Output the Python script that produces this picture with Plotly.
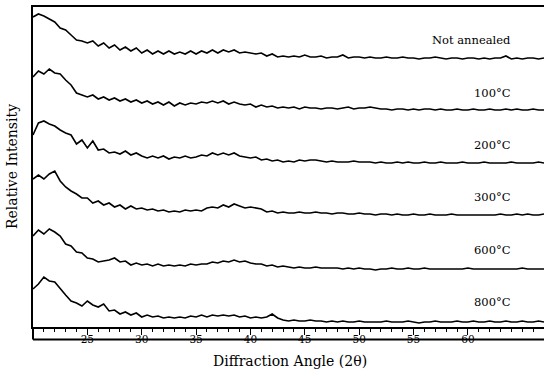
import numpy as np
import plotly.graph_objects as go

# Diffraction angle grid (2-theta, degrees), 0.5 degree steps from 20 to 67
two_theta = np.arange(20.0, 67.01, 0.5)

sample_labels = ["Not annealed", "100°C", "200°C", "300°C", "600°C", "800°C"]

# Relative intensity above each trace's own baseline
not_annealed = [
    42, 45, 43, 40, 37, 31, 29, 24, 19, 18,
    16, 18, 13, 16, 11, 14, 9, 12, 8, 11,
    6, 9, 5, 8, 5, 8, 5, 7, 5, 8,
    5, 8, 6, 9, 6, 9, 7, 9, 6, 7,
    6, 5, 6, 3, 5, 2, 3, 2, 3, 2,
    4, 2, 2, 3, 1, 2, 2, 4, 1, 2,
    2, 1, 2, 1, 1, 2, 1, 1, 2, 1,
    1, 0, 1, 1, 2, 1, 0, 1, 1, 0,
    1, 1, 0, 1, 0, 1, 1, 3, 0, 1,
    0, 1, 1, 0, 1,
]
t100 = [
    33, 39, 36, 41, 37, 36, 30, 25, 17, 15,
    13, 15, 11, 13, 10, 12, 9, 11, 8, 10,
    7, 9, 6, 8, 5, 8, 4, 7, 5, 7,
    6, 8, 7, 9, 7, 9, 6, 8, 6, 5,
    6, 3, 5, 3, 4, 2, 3, 2, 3, 1,
    3, 2, 2, 1, 2, 2, 1, 2, 3, 1,
    2, 2, 3, 2, 1, 1, 0, 1, 1, 0,
    1, 0, 1, 1, 0, 1, 0, 0, 1, 0,
    0, 1, 0, 0, 1, 0, 0, 1, 0, 1,
    0, 0, 1, 0, 0,
]
t200 = [
    28, 40, 42, 39, 37, 33, 30, 28, 19, 23,
    15, 22, 13, 14, 10, 11, 9, 12, 8, 10,
    7, 5, 7, 5, 7, 4, 6, 5, 7, 5,
    6, 8, 7, 10, 8, 10, 8, 10, 7, 6,
    5, 6, 3, 4, 2, 3, 1, 2, 1, 3,
    2, 3, 3, 2, 1, 2, 1, 1, 1, 2,
    1, 1, 1, 0, 1, 0, 0, 1, 0, 1,
    0, 0, 1, 0, 0, 1, 0, 0, 0, 1,
    0, 0, 0, 1, 0, 0, 0, 0, 1, 0,
    0, 0, 0, 1, 0,
]
t300 = [
    36, 40, 36, 41, 44, 34, 28, 24, 21, 17,
    17, 12, 14, 10, 12, 8, 10, 6, 9, 6,
    7, 5, 6, 4, 5, 3, 4, 3, 5, 4,
    5, 4, 7, 8, 7, 10, 8, 11, 9, 7,
    8, 7, 6, 3, 4, 2, 3, 2, 2, 3,
    2, 2, 3, 2, 2, 1, 2, 2, 1, 1,
    2, 1, 1, 0, 1, 1, 0, 1, 0, 0,
    1, 0, 0, 1, 0, 0, 0, 1, 0, 0,
    0, 0, 0, 0, 0, 0, 1, 0, 0, 1,
    0, 1, 0, 0, 1,
]
t600 = [
    33, 39, 35, 40, 37, 33, 25, 23, 17, 16,
    11, 10, 7, 8, 9, 11, 7, 8, 4, 6,
    4, 5, 3, 5, 3, 4, 3, 4, 3, 5,
    4, 5, 5, 7, 6, 8, 7, 9, 7, 8,
    6, 5, 5, 3, 4, 2, 3, 2, 1, 2,
    1, 1, 2, 1, 1, 1, 1, 0, 1, 0,
    1, 0, 0, -1, 0, 0, 1, 0, 0, 1,
    0, 0, 1, 0, 0, 0, 0, 0, 0, 0,
    1, 0, 0, 0, 0, 0, 0, 0, 0, 0,
    1, 0, 0, 0, 0,
]
t800 = [
    33, 38, 45, 41, 40, 33, 27, 21, 19, 16,
    21, 17, 15, 18, 11, 12, 8, 10, 7, 9,
    5, 7, 5, 6, 4, 5, 4, 5, 4, 6,
    5, 7, 5, 7, 6, 7, 6, 7, 5, 6,
    4, 5, 4, 5, 8, 4, 2, 1, 2, 1,
    1, 2, 1, 1, 0, 1, 0, 1, 0, 0,
    1, 0, 0, 0, 0, 1, 0, 0, 0, 1,
    0, -1, 0, 0, 1, 0, 0, 0, 1, 0,
    0, 1, 0, 0, 1, 0, 0, 1, 0, 0,
    1, 0, 0, 1, 0,
]
series = [not_annealed, t100, t200, t300, t600, t800]

# Vertical stacking offsets of each trace (same intensity units)
offsets = [268, 217, 164, 112, 58, 5]
label_lift = [19, 17, 18, 18, 19, 20]

x_ticks = [25, 30, 35, 40, 45, 50, 55, 60]

for s in series:
    assert len(s) == len(two_theta), len(s)

fig = go.Figure()
for name, vals, off in zip(sample_labels, series, offsets):
    fig.add_trace(go.Scatter(
        x=two_theta, y=np.array(vals) + off, mode="lines", name=name,
        line=dict(color="black", width=1.6), showlegend=False,
    ))

serif = "DejaVu Serif"
for name, off, lift in zip(sample_labels, offsets, label_lift):
    fig.add_annotation(
        x=64.15, y=off + lift, xref="x", yref="y", text=name, showarrow=False,
        xanchor="right", yanchor="middle",
        font=dict(family=serif, size=11.5, color="black"),
    )

fig.add_annotation(
    x=0, y=0.5, xref="paper", yref="paper", xshift=-21, text="Relative Intensity",
    textangle=-90, showarrow=False, xanchor="center", yanchor="middle",
    font=dict(family=serif, size=14, color="black"),
)
fig.add_annotation(
    x=0.503, y=-0.106, xref="paper", yref="paper", text="Diffraction Angle (2θ)",
    showarrow=False, xanchor="center", yanchor="middle",
    font=dict(family=serif, size=14, color="black"),
)

# ruler bottom line and left edge extension
fig.add_shape(type="line", xref="paper", yref="paper", x0=0, x1=1, y0=-0.039, y1=-0.039,
              line=dict(color="black", width=2))
fig.add_shape(type="line", xref="paper", yref="paper", x0=0, x1=0, y0=-0.039, y1=0,
              line=dict(color="black", width=2))

fig.update_layout(
    width=544, height=370,
    margin=dict(l=33, r=0, t=7, b=43),
    paper_bgcolor="white", plot_bgcolor="white",
    xaxis=dict(
        range=[20, 67], showgrid=False, zeroline=False,
        showline=True, linecolor="black", linewidth=2, mirror=True,
        tickmode="array", tickvals=x_ticks, ticktext=[str(t) for t in x_ticks],
        ticks="outside", ticklen=6, tickwidth=1, tickcolor="black",
        minor=dict(dtick=1, ticks="outside", ticklen=3, tickcolor="black", tickwidth=1),
        tickfont=dict(family=serif, size=10.5, color="black"),
        ticklabelstandoff=-5,
    ),
    yaxis=dict(
        range=[0, 320], showgrid=False, zeroline=False, showticklabels=False,
        showline=True, linecolor="black", linewidth=2, mirror=False, ticks="",
    ),
)

fig.write_html("out.html")
